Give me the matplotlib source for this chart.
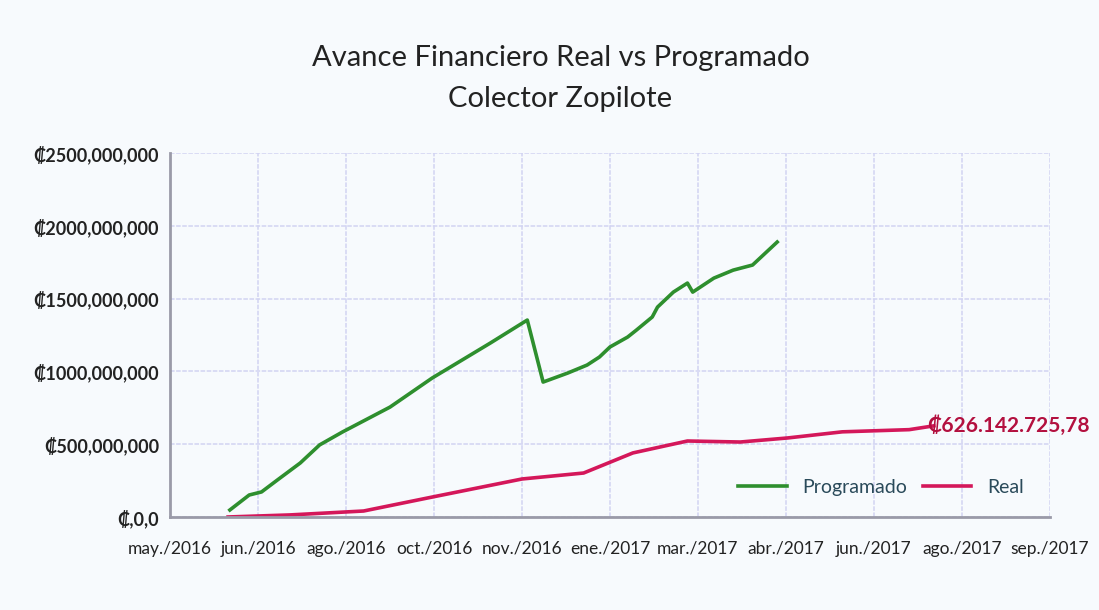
import numpy as np
import pandas as pd
import matplotlib
matplotlib.use("Agg")
import matplotlib.pyplot as plt
import matplotlib.dates as mdates
from matplotlib.ticker import FuncFormatter, MultipleLocator, FixedLocator

plt.rcParams['font.family'] = ['Lato', 'DejaVu Sans']

# Programado (millones de colones)
prog_dates = ['2016-06-13', '2016-06-24', '2016-07-01', '2016-07-10', '2016-07-23',
              '2016-08-03', '2016-08-16', '2016-09-12', '2016-10-06', '2016-11-08',
              '2016-11-29', '2016-12-08', '2016-12-22', '2017-01-02', '2017-01-09',
              '2017-01-15', '2017-01-25', '2017-01-30', '2017-02-08', '2017-02-11',
              '2017-02-20', '2017-02-28', '2017-03-03', '2017-03-15', '2017-03-26',
              '2017-04-06', '2017-04-20']
prog_vals = [48, 151, 172, 254, 371, 495, 584, 755, 955, 1195,
             1353, 927, 989, 1044, 1099, 1168, 1236, 1284, 1374, 1442,
             1545, 1607, 1545, 1641, 1696, 1731, 1889]

# Real (millones de colones)
real_dates = ['2016-06-12', '2016-07-17', '2016-08-28', '2016-10-06', '2016-11-26',
              '2016-12-31', '2017-01-28', '2017-02-28', '2017-03-30', '2017-04-26',
              '2017-05-27', '2017-07-04', '2017-07-18']
real_vals = [0, 14, 41, 137, 261, 302, 440, 522, 515, 543, 585, 600, 626.14272578]

x_start = '2016-05-10'
x_end = '2017-09-22'
tick_step_days = 50
meses = ['ene', 'feb', 'mar', 'abr', 'may', 'jun', 'jul', 'ago', 'sep', 'oct', 'nov', 'dic']

prog_x = mdates.date2num(pd.to_datetime(prog_dates))
real_x = mdates.date2num(pd.to_datetime(real_dates))
prog_y = np.array(prog_vals) * 1e6
real_y = np.array(real_vals) * 1e6

bg = '#f7fafd'
fig = plt.figure(figsize=(10.99, 6.10), dpi=100, facecolor=bg)
ax = fig.add_axes([0.1547, 0.1525, 0.8007, 0.5965])
ax.set_facecolor(bg)

ax.plot(prog_x, prog_y, color='#2e8f2e', lw=2.6, label='Programado')
ax.plot(real_x, real_y, color='#d4175a', lw=2.6, label='Real')

ax.annotate('₡626.142.725,78', xy=(real_x[-1], real_y[-1]), xytext=(-5, 0),
            textcoords='offset points', ha='left', va='center',
            color='#b3103f', fontsize=15, fontweight='bold')

x0 = mdates.date2num(pd.Timestamp(x_start))
x1 = mdates.date2num(pd.Timestamp(x_end))
ax.set_xlim(x0, x1)
ax.set_ylim(0, 2500e6)
ax.xaxis.set_major_locator(FixedLocator(np.arange(x0, x1 + 1, tick_step_days)))
ax.xaxis.set_major_formatter(FuncFormatter(
    lambda v, p: '%s./%d' % (meses[mdates.num2date(v).month - 1], mdates.num2date(v).year)))
ax.yaxis.set_major_locator(MultipleLocator(500e6))
ax.yaxis.set_major_formatter(FuncFormatter(
    lambda v, p: '₡,0,0' if v == 0 else '₡%d,000,000' % int(round(v / 1e6))))

for lab in ax.get_yticklabels():
    lab.set_fontweight('bold')
    lab.set_fontsize(13)
    lab.set_color('#222222')
for lab in ax.get_xticklabels():
    lab.set_fontsize(12.5)
    lab.set_color('#222222')
ax.tick_params(axis='y', length=0, pad=8)
ax.tick_params(axis='x', length=0, pad=17)

ax.grid(True, color='#d2d4f2', lw=1.1, ls=(0, (3, 1)))
ax.set_axisbelow(True)
for s in ['top', 'right']:
    ax.spines[s].set_visible(False)
for s in ['left', 'bottom']:
    ax.spines[s].set_color('#9a9aa8')
    ax.spines[s].set_linewidth(2)

leg = ax.legend(loc='lower right', ncol=2, frameon=False, fontsize=14,
                bbox_to_anchor=(0.99, 0.01), handlelength=2.5, columnspacing=0.8)
for t in leg.get_texts():
    t.set_color('#2a4a5a')

fig.text(0.51, 0.905, 'Avance Financiero Real vs Programado', ha='center', va='center',
         fontsize=21, color='#222222')
fig.text(0.51, 0.838, 'Colector Zopilote', ha='center', va='center',
         fontsize=21, color='#222222')

fig.savefig('out.png', dpi=100, facecolor=bg)
